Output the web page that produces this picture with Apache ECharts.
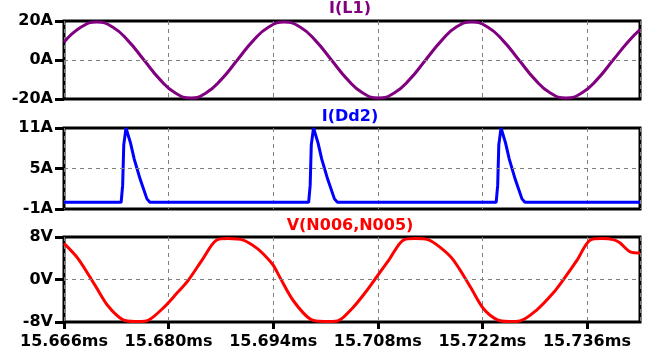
<!DOCTYPE html>
<html>
<head>
<meta charset="utf-8">
<script src="https://cdn.jsdelivr.net/npm/echarts@6/dist/echarts.min.js"></script>
<style>
  html, body { margin: 0; padding: 0; background: #fff; }
  #chart { width: 649px; height: 356px; }
</style>
</head>
<body>
<div id="chart"></div>
<script>
// time axis is in µs after 15.666ms, labels are shown in ms
const tStartMs = 15.666;
const tSpan = 77.1;
const xTickStep = 14;

// I(L1) [µs, A]
const iL1 = [
  [0, 9.1], [2.3, 16.9], [4.4, 19.5], [6.5, 16.9], [8.6, 9.8], [10.7, 0],
  [12.8, -9.8], [14.9, -16.9], [17.0, -19.5], [19.0, -16.9], [21.1, -9.8], [23.2, 0],
  [25.3, 9.8], [27.4, 16.9], [29.5, 19.5], [31.6, 16.9], [33.7, 9.8], [35.8, 0],
  [37.9, -9.8], [40.0, -16.9], [42.1, -19.5], [44.2, -16.9], [46.3, -9.8], [48.4, 0],
  [50.5, 9.8], [52.5, 16.9], [54.6, 19.5], [56.7, 16.9], [58.8, 9.8], [60.9, 0],
  [63.0, -9.8], [65.1, -16.9], [67.2, -19.5], [69.3, -16.9], [71.4, -9.8], [73.5, 0],
  [75.6, 9.8], [77.1, 15.6]
];

// I(Dd2) [µs, A]
const iDd2 = [
  [0, 0], [7.65, 0], [7.85, 2.5], [8.0, 8.5], [8.3, 11], [8.9, 8.8], [9.4, 6.4],
  [10.2, 3.4], [11.1, 0.5], [11.5, 0],
  [32.75, 0], [32.95, 2.5], [33.1, 8.5], [33.4, 11], [34.0, 8.8], [34.5, 6.4],
  [35.3, 3.4], [36.2, 0.5], [36.6, 0],
  [57.85, 0], [58.05, 2.5], [58.2, 8.5], [58.5, 11], [59.1, 8.8], [59.6, 6.4],
  [60.4, 3.4], [61.3, 0.5], [61.7, 0], [77.1, 0]
];

// V(N006,N005) [µs, V]
const vOut = [
  [0, 6.8], [1.9, 3.9], [4.2, -1.2], [5.9, -5.0], [7.9, -7.6], [9.5, -7.9], [11.0, -7.8],
  [13.1, -5.6], [15.1, -2.6], [16.6, -0.2], [18.5, 3.7], [20.4, 7.4], [22.0, 7.7], [24.0, 7.4],
  [25.8, 5.9], [27.1, 4.2], [28.0, 2.7], [28.9, 0.4], [30.7, -4.0], [33.0, -7.5], [34.8, -7.9], [36.6, -7.8],
  [38.6, -5.4], [40.3, -2.5], [41.6, 0], [43.5, 3.7], [45.4, 7.4], [47.0, 7.7], [48.7, 7.5],
  [50.4, 6.0], [52.1, 3.7], [54.4, -1.4], [56.1, -5.4], [58.0, -7.6], [59.5, -7.9], [61.0, -7.8],
  [63.3, -5.7], [65.5, -2.5], [66.8, -0.1], [68.7, 3.7], [70.4, 7.4], [72.0, 7.7], [73.5, 7.5],
  [74.4, 6.9], [75.8, 5.2], [77.1, 5.0]
];

const paneNames = ['I(L1)', 'I(Dd2)', 'V(N006,N005)'];
const paneColors = ['#800080', '#0000ff', '#ff0000'];
const yMin = [-20, -1, -8];
const yMax = [20, 11, 8];
const yTicks = [[-20, 0, 20], [-1, 5, 11], [-8, 0, 8]];
const yUnits = ['A', 'A', 'V'];

const font = { fontFamily: 'DejaVu Sans', fontSize: 16, fontWeight: 'bold', color: '#000' };
const dashed = { show: true, lineStyle: { color: '#808080', width: 1, type: [4, 4] } };

const grids = [
  { left: 64, right: 9, top: 21, height: 78 },
  { left: 64, right: 9, top: 128, height: 81 },
  { left: 64, right: 9, top: 237, height: 85 }
].map(g => Object.assign(g, { show: true, borderColor: '#000', borderWidth: 3, containLabel: false }));

const xAxes = grids.map((g, i) => ({
  type: 'value',
  gridIndex: i,
  position: 'bottom',
  min: 0,
  max: tSpan,
  interval: xTickStep,
  axisLine: { show: false, onZero: false },
  axisTick: i === 2 ? { show: true, length: 7, lineStyle: { color: '#000', width: 3 } } : { show: false },
  axisLabel: i === 2 ? Object.assign({
    show: true, margin: 12, showMaxLabel: false,
    formatter: v => (tStartMs + v / 1000).toFixed(3) + 'ms'
  }, font) : { show: false },
  splitLine: dashed
}));

const yAxes = grids.map((g, i) => ({
  type: 'value',
  gridIndex: i,
  position: 'left',
  min: yMin[i],
  max: yMax[i],
  axisLine: { show: false, onZero: false },
  axisTick: { show: true, length: 9, customValues: yTicks[i], lineStyle: { color: '#000', width: 3 } },
  axisLabel: Object.assign({
    show: true, margin: 11, customValues: yTicks[i],
    formatter: v => v + yUnits[i]
  }, font),
  splitLine: { show: false }
}));

const seriesData = [iL1, iDd2, vOut];
const series = seriesData.map((d, i) => ({
  name: paneNames[i],
  type: 'line',
  xAxisIndex: i,
  yAxisIndex: i,
  data: d,
  showSymbol: false,
  smooth: i === 0 ? 0.5 : (i === 2 ? 0.3 : false),
  lineStyle: { color: paneColors[i], width: 3 },
  itemStyle: { color: paneColors[i] },
  clip: false,
  markLine: {
    silent: true,
    symbol: 'none',
    label: { show: false },
    lineStyle: { color: '#808080', width: 1, type: [4, 4] },
    data: [{ yAxis: yTicks[i][1] }]
  },
  z: 3
}));

const titles = paneNames.map((n, i) => ({
  text: n,
  left: 350,
  top: [1, 109, 218][i],
  textAlign: 'center',
  padding: 0,
  textStyle: { fontFamily: 'DejaVu Sans', fontSize: 16, fontWeight: 'bold', color: paneColors[i] }
}));

const chart = echarts.init(document.getElementById('chart'), null, { renderer: 'canvas' });
chart.setOption({
  animation: false,
  backgroundColor: '#fff',
  title: titles,
  grid: grids,
  xAxis: xAxes,
  yAxis: yAxes,
  series: series
});
</script>
</body>
</html>
